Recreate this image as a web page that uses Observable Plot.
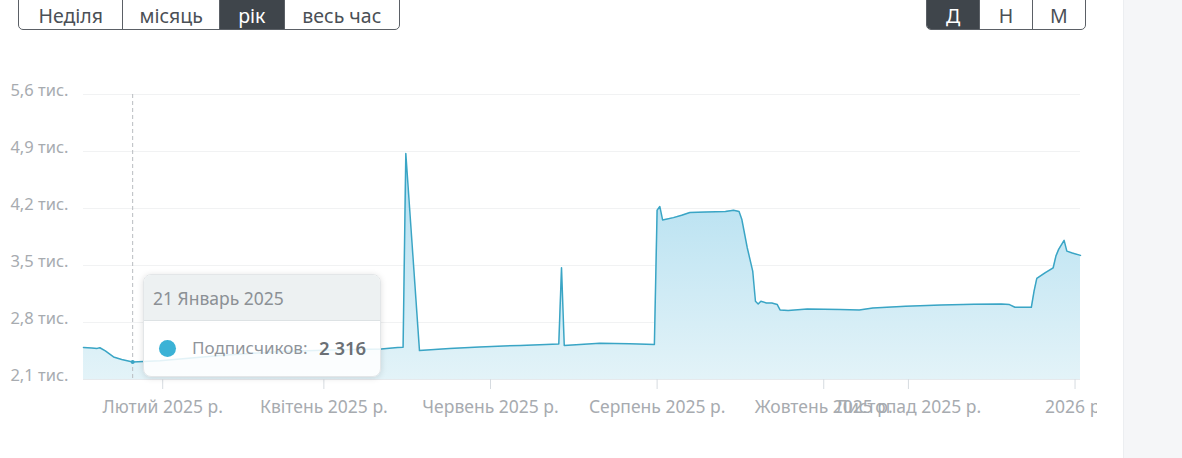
<!DOCTYPE html>
<html><head><meta charset="utf-8">
<script src="https://cdn.jsdelivr.net/npm/d3@7"></script>
<script src="https://cdn.jsdelivr.net/npm/@observablehq/plot@0.6"></script>
<style>
html,body{margin:0;padding:0}
body{width:1182px;height:458px;overflow:hidden;background:#fff;font-family:"Noto Sans",sans-serif;position:relative}
#side{position:absolute;left:1123px;top:0;width:59px;height:458px;background:#f5f6f8;border-left:1px solid #eceef1}
#chart{position:absolute;left:0;top:0}
.grp{position:absolute;top:-4px;height:34px;display:flex;border:1px solid #5b6066;border-radius:0 0 5px 5px;overflow:hidden;background:#fff;box-sizing:border-box}
.grp div{display:flex;align-items:center;justify-content:center;font-size:19.5px;color:#4b5056;border-left:1px solid #5b6066;padding-top:4px;box-sizing:border-box;height:100%}
.grp div:first-child{border-left:none}
.grp div.on{background:#3f454b;color:#fff}
#tip{position:absolute;left:143px;top:274px;width:238px;height:103px;border-radius:8px;background:rgba(255,255,255,0.86);box-shadow:0 1px 6px rgba(0,0,0,0.13);overflow:hidden;border:1px solid #e3e6e8;box-sizing:border-box}
#tipHead{height:46px;background:rgba(236,240,241,0.93);border-bottom:1px solid #dde2e4;font-size:17.5px;color:#8b9095;padding-left:9px;line-height:46px;box-sizing:border-box}
#tipBody{position:relative;height:56px}
#tipDot{position:absolute;left:15px;top:19px;width:17px;height:17px;border-radius:50%;background:#3bb2d6}
#tipName{position:absolute;left:48px;top:15px;font-size:17px;color:#8f949a}
#tipVal{position:absolute;left:175px;top:14px;font-size:18.5px;color:#6b7075;font-weight:600}
</style>
</head><body>
<div id="chart"></div>
<div id="side"></div>
<div class="grp" id="g1" style="left:18px;width:382px"></div>
<div class="grp" id="g2" style="left:926px;width:160px"></div>
<div id="tip"><div id="tipHead"></div><div id="tipBody"><div id="tipDot"></div><div id="tipName"></div><div id="tipVal"></div></div></div>
<script>
// ---- data ----
const dates = ["2025-01-03","2025-01-06","2025-01-08","2025-01-09","2025-01-11","2025-01-14","2025-01-17","2025-01-21","2025-01-31","2025-02-22","2025-03-16","2025-04-07","2025-04-22","2025-04-28","2025-04-30","2025-05-01","2025-05-06","2025-05-17","2025-05-28","2025-06-12","2025-06-26","2025-06-27","2025-06-28","2025-07-11","2025-07-22","2025-07-31","2025-08-01","2025-08-02","2025-08-03","2025-08-07","2025-08-10","2025-08-13","2025-08-19","2025-08-26","2025-08-29","2025-08-31","2025-09-01","2025-09-03","2025-09-05","2025-09-06","2025-09-07","2025-09-08","2025-09-10","2025-09-12","2025-09-14","2025-09-15","2025-09-18","2025-09-25","2025-10-07","2025-10-14","2025-10-19","2025-10-31","2025-11-13","2025-11-25","2025-12-05","2025-12-08","2025-12-10","2025-12-16","2025-12-17","2025-12-18","2025-12-21","2025-12-24","2025-12-25","2025-12-26","2025-12-28","2025-12-29","2025-12-31","2026-01-03"];
const subscribers = [2494,2488,2482,2490,2451,2377,2346,2316,2330,2395,2445,2465,2475,2494,2495,4875,2455,2482,2500,2519,2535,3472,2519,2544,2538,2531,4180,4224,4060,4088,4117,4150,4158,4162,4179,4162,4068,3718,3431,3061,3028,3061,3040,3040,3020,2954,2947,2966,2959,2954,2979,3000,3016,3024,3028,3020,2987,2987,3185,3341,3410,3472,3616,3698,3809,3677,3653,3624];
const yTicks = [2100,2800,3500,4200,4900,5600];
const xTickDates = ["2025-02-01","2025-04-01","2025-06-01","2025-08-01","2025-10-01","2025-11-01","2026-01-01"];
const xTickLabels = ["Лютий 2025 р.","Квітень 2025 р.","Червень 2025 р.","Серпень 2025 р.","Жовтень 2025 р.","Листопад 2025 р.","2026 р."];
const xDomain = ["2025-01-03","2026-01-03"];
const periodButtons = ["Неділя","місяць","рік","весь час"];
const periodWidths = [104,97,65,116];
const stepButtons = ["Д","Н","М"];
const stepWidths = [53,53,54];
const hoverDate = "2025-01-21";
const hoverTitle = "21 Январь 2025";
const seriesName = "Подписчиков:";

// ---- build ----
const data = dates.map((d,i)=>({date:new Date(d), value:subscribers[i]}));
const labelMap = new Map(xTickDates.map((d,i)=>[+new Date(d), xTickLabels[i]]));
const hover = data.find(d => +d.date === +new Date(hoverDate));

const plot = Plot.plot({
  width: 1097, height: 440,
  marginLeft: 83, marginRight: 17, marginTop: 94, marginBottom: 61,
  style: {fontFamily: "'Noto Sans', sans-serif", background: "transparent", overflow: "hidden"},
  x: {type: "utc", domain: xDomain.map(s => new Date(s))},
  y: {domain: [2100, 5600]},
  marks: [
    Plot.gridY(yTicks, {stroke: "#f1f2f3", strokeOpacity: 1}),
    Plot.areaY(data, {x: "date", y1: () => 2100, y2: "value", fill: "url(#subsFill)"}),
    Plot.lineY(data, {x: "date", y: "value", stroke: "#3aa5c5", strokeWidth: 1.5}),
    Plot.ruleY([2100], {stroke: "#e6e9ec"}),
    Plot.axisY({ticks: yTicks, tickSize: 0, tickPadding: 15, dy: -4, fontSize: 16.5, fill: "#a7abb0", label: null,
      tickFormat: d => (d/1000).toFixed(1).replace(".", ",") + " тис."}),
    Plot.axisX({ticks: xTickDates.map(s => new Date(s)), tickSize: 10, tickPadding: 11, fontSize: 17.5,
      fill: "#a7abb0", stroke: "#d6dbe0", label: null, tickFormat: d => labelMap.get(+d)}),
    Plot.ruleX([hover], {x: "date", y1: 5600, y2: 2100, stroke: "#b8bcc0", strokeDasharray: "4,3"}),
    Plot.dot([hover], {x: "date", y: "value", r: 2, fill: "#3aa5c5"})
  ]
});
d3.select(plot).insert("defs", ":first-child").html(
  '<linearGradient id="subsFill" x1="0" y1="0" x2="0" y2="1">' +
  '<stop offset="0" stop-color="#b0def0"/><stop offset="1" stop-color="#e3f3f8"/></linearGradient>');
document.getElementById("chart").appendChild(plot);

function buttons(id, labels, widths, active) {
  const g = document.getElementById(id);
  labels.forEach((t,i) => {
    const b = document.createElement("div");
    b.textContent = t; b.style.width = widths[i] + "px";
    if (t === active) b.className = "on";
    g.appendChild(b);
  });
}
buttons("g1", periodButtons, periodWidths, "рік");
buttons("g2", stepButtons, stepWidths, "Д");

document.getElementById("tipHead").textContent = hoverTitle;
document.getElementById("tipName").textContent = seriesName;
document.getElementById("tipVal").textContent = d3.format(",")(hover.value).replace(",", " ");
</script>
</body></html>
